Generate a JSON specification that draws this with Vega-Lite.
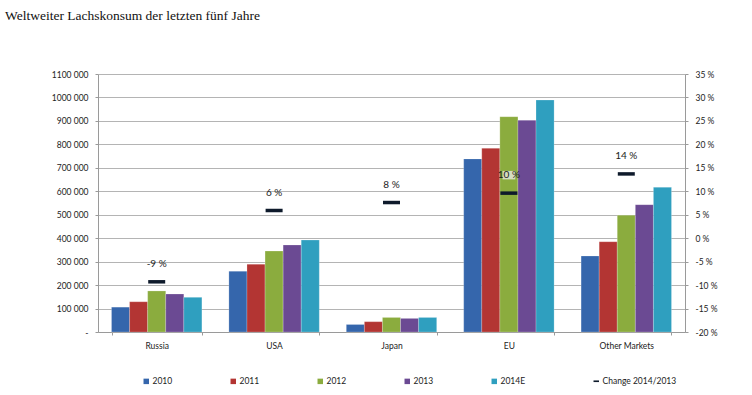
{
  "$schema": "https://vega.github.io/schema/vega-lite/v6.json",
  "width": 587,
  "height": 258,
  "autosize": "none",
  "padding": {"left": 98, "top": 74, "right": 67, "bottom": 63},
  "background": "white",
  "title": {
    "text": "Weltweiter Lachskonsum der letzten fünf Jahre",
    "anchor": "start",
    "frame": "group",
    "dx": -93,
    "offset": 48,
    "font": "Liberation Serif",
    "fontSize": 13.5,
    "fontWeight": "normal",
    "color": "#111"
  },
  "config": {
    "view": {"stroke": null},
    "axis": {"labelFont": "Lato", "labelFontSize": 8.5, "labelColor": "#222", "domainColor": "#9a9a9a", "tickColor": "#9a9a9a", "gridColor": "#b4b4b4", "titleFont": "Lato", "labelOverlap": false},
    "legend": {"labelFont": "Lato", "labelFontSize": 8.5, "labelColor": "#222"}
  },
  "datasets": {
    "bars": [
      {"market": "Russia", "year": "2010", "value": 106000},
      {"market": "Russia", "year": "2011", "value": 129000},
      {"market": "Russia", "year": "2012", "value": 175000},
      {"market": "Russia", "year": "2013", "value": 162000},
      {"market": "Russia", "year": "2014E", "value": 148000},
      {"market": "USA", "year": "2010", "value": 259000},
      {"market": "USA", "year": "2011", "value": 289000},
      {"market": "USA", "year": "2012", "value": 345000},
      {"market": "USA", "year": "2013", "value": 371000},
      {"market": "USA", "year": "2014E", "value": 392000},
      {"market": "Japan", "year": "2010", "value": 32000},
      {"market": "Japan", "year": "2011", "value": 44000},
      {"market": "Japan", "year": "2012", "value": 62000},
      {"market": "Japan", "year": "2013", "value": 58000},
      {"market": "Japan", "year": "2014E", "value": 62000},
      {"market": "EU", "year": "2010", "value": 738000},
      {"market": "EU", "year": "2011", "value": 783000},
      {"market": "EU", "year": "2012", "value": 918000},
      {"market": "EU", "year": "2013", "value": 903000},
      {"market": "EU", "year": "2014E", "value": 989000},
      {"market": "Other Markets", "year": "2010", "value": 324000},
      {"market": "Other Markets", "year": "2011", "value": 385000},
      {"market": "Other Markets", "year": "2012", "value": 498000},
      {"market": "Other Markets", "year": "2013", "value": 543000},
      {"market": "Other Markets", "year": "2014E", "value": 617000}
    ],
    "change": [
      {"market": "Russia", "series": "Change 2014/2013", "change": -9.3, "label": "-9 %"},
      {"market": "USA", "series": "Change 2014/2013", "change": 5.9, "label": "6 %"},
      {"market": "Japan", "series": "Change 2014/2013", "change": 7.6, "label": "8 %"},
      {"market": "EU", "series": "Change 2014/2013", "change": 9.6, "label": "10 %"},
      {"market": "Other Markets", "series": "Change 2014/2013", "change": 13.7, "label": "14 %"}
    ]
  },
  "encoding": {
    "x": {
      "field": "market",
      "type": "nominal",
      "sort": ["Russia", "USA", "Japan", "EU", "Other Markets"],
      "scale": {"paddingInner": 0.23, "paddingOuter": 0.115},
      "axis": {"title": null, "labelAngle": 0, "tickBand": "extent", "tickSize": 3, "labelPadding": 6, "domainColor": "#9a9a9a"}
    }
  },
  "layer": [
    {
      "data": {"name": "bars"},
      "mark": {"type": "bar", "stroke": "#ffffff", "strokeOpacity": 0.35, "strokeWidth": 0.6},
      "encoding": {
        "xOffset": {"field": "year", "type": "nominal", "sort": ["2010", "2011", "2012", "2013", "2014E"], "scale": {"paddingInner": 0, "paddingOuter": 0}},
        "y": {
          "field": "value",
          "type": "quantitative",
          "scale": {"domain": [0, 1100000], "nice": false},
          "axis": {
            "title": null,
            "values": [0, 100000, 200000, 300000, 400000, 500000, 600000, 700000, 800000, 900000, 1000000, 1100000],
            "labelExpr": "datum.value == 0 ? '-' : floor(datum.value / 1000) + ' 000'",
            "tickSize": 3,
            "labelPadding": 7,
            "grid": true,
            "gridWidth": 1
          }
        },
        "color": {
          "field": "year",
          "type": "nominal",
          "scale": {
            "domain": ["2010", "2011", "2012", "2013", "2014E"],
            "range": ["#3566ac", "#b33533", "#8bac3e", "#6b4a93", "#2f9fbf"]
          },
          "legend": {
            "title": null,
            "orient": "none",
            "legendX": 44,
            "legendY": 303,
            "direction": "horizontal",
            "columns": 5,
            "columnPadding": 56,
            "symbolType": "square",
            "symbolSize": 30,
            "labelOffset": 2,
            "symbolStrokeWidth": 0
          }
        }
      }
    },
    {
      "data": {"name": "change"},
      "encoding": {
        "y": {
          "field": "change",
          "type": "quantitative",
          "scale": {"domain": [-20, 35], "nice": false, "zero": false},
          "axis": {
            "title": null,
            "orient": "right",
            "values": [-20, -15, -10, -5, 0, 5, 10, 15, 20, 25, 30, 35],
            "labelExpr": "datum.value + ' %'",
            "tickSize": 3,
            "labelPadding": 7,
            "grid": false,
            "labelOverlap": false
          }
        }
      },
      "layer": [
        {
          "mark": {"type": "tick", "size": 17, "thickness": 3.5, "orient": "horizontal", "opacity": 1},
          "encoding": {
            "fill": {
              "field": "series",
              "type": "nominal",
              "scale": {"domain": ["Change 2014/2013"], "range": ["#0e1a2b"]},
              "legend": {
                "title": null,
                "orient": "none",
                "legendX": 494,
                "legendY": 303,
                "direction": "horizontal",
                "symbolType": "M-1,-0.3H1V0.3H-1Z",
                "symbolSize": 30,
                "labelOffset": 2,
                "symbolStrokeWidth": 0
              }
            }
          }
        },
        {
          "transform": [{"filter": "datum.market === 'EU'"}],
          "mark": {"type": "point", "shape": "M-1.5,-1H1.5V1H-1.5Z", "size": 72, "filled": true, "fill": "#ececec", "opacity": 0.75, "strokeWidth": 0, "yOffset": -18},
          "encoding": {}
        },
        {
          "mark": {"type": "text", "dy": -18, "font": "Lato", "fontSize": 10, "color": "#222"},
          "encoding": {
            "text": {"field": "label"}
          }
        }
      ]
    }
  ],
  "resolve": {"scale": {"y": "independent"}}
}
